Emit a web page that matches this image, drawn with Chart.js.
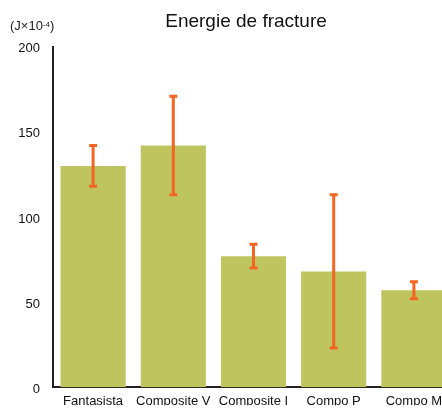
<!DOCTYPE html>
<html>
<head>
<meta charset="utf-8">
<script src="https://cdn.jsdelivr.net/npm/chart.js@4"></script>
<style>
  html, body { margin: 0; padding: 0; background: #fff; overflow: hidden; }
  .wrap { width: 442px; height: 408px; overflow: hidden; }
</style>
</head>
<body>
<div class="wrap">
  <canvas id="myChart" width="492" height="408"></canvas>
</div>
<script>
const categories = ['Fantasista', 'Composite V', 'Composite I', 'Compo P', 'Compo M'];
const energy = [130, 142, 77, 68, 57];
const errors = [12, 29, 7, 45, 5];
const yTicks = [0, 50, 100, 150, 200];

let barColor = '#bec55f', errColor = '#f26522', axisColor = '#222';
const fontFamily = '"Liberation Sans", Arial, sans-serif';

// error bars from the data arrays, plus the unit label in the corner
const errorBars = {
    id: 'errorBars',
    afterDatasetsDraw(chart) {
        const ctx = chart.ctx;
        const yScale = chart.scales.y;
        const meta = chart.getDatasetMeta(0);
        ctx.save();
        ctx.strokeStyle = errColor;
        ctx.lineWidth = 3;
        meta.data.forEach((bar, i) => {
            const top = yScale.getPixelForValue(energy[i] + errors[i]);
            const bottom = yScale.getPixelForValue(energy[i] - errors[i]);
            ctx.beginPath();
            ctx.moveTo(bar.x, top);
            ctx.lineTo(bar.x, bottom);
            ctx.moveTo(bar.x - 4, top);
            ctx.lineTo(bar.x + 4, top);
            ctx.moveTo(bar.x - 4, bottom);
            ctx.lineTo(bar.x + 4, bottom);
            ctx.stroke();
        });
        ctx.restore();
    },
    afterDraw(chart) {
        const ctx = chart.ctx;
        ctx.save();
        ctx.fillStyle = '#222';
        ctx.textBaseline = 'alphabetic';
        ctx.font = '13px ' + fontFamily;
        let x = 10;
        ctx.fillText('(J\u00d710', x, 30);
        x += ctx.measureText('(J\u00d710').width;
        ctx.font = '8px ' + fontFamily;
        ctx.fillText('-4', x, 27);
        x += ctx.measureText('-4').width;
        ctx.font = '13px ' + fontFamily;
        ctx.fillText(')', x, 30);
        ctx.restore();
    }
};

const data = {
    labels: categories,
    datasets: [{
        data: energy,
        backgroundColor: barColor,
        borderWidth: 0,
        categoryPercentage: 1,
        barPercentage: 0.8125
    }]
};

const config = {
    type: 'bar',
    data,
    plugins: [errorBars],
    options: {
        responsive: false,
        animation: false,
        devicePixelRatio: 1,
        layout: { padding: 0 },
        plugins: {
            legend: { display: false },
            tooltip: { enabled: false },
            title: {
                display: true,
                text: 'Energie de fracture',
                color: '#111',
                font: { family: fontFamily, size: 19, weight: 'normal' },
                padding: { top: 10, bottom: 14 }
            }
        },
        scales: {
            x: {
                grid: { display: false, drawTicks: false },
                border: { display: true, color: axisColor, width: 2 },
                ticks: {
                    color: '#111',
                    padding: 6,
                    maxRotation: 0,
                    autoSkip: false,
                    font: { family: fontFamily, size: 13 }
                },
                afterFit: s => { s.height = 18; }
            },
            y: {
                min: 0,
                max: 200,
                grid: { display: false, drawTicks: false },
                border: { display: true, color: axisColor, width: 2 },
                afterBuildTicks: s => { s.ticks = yTicks.map(v => ({ value: v })); },
                ticks: {
                    color: '#111',
                    padding: 13,
                    labelOffset: 2,
                    font: { family: fontFamily, size: 13 }
                },
                afterFit: s => { s.width = 53; }
            },
            // empty right-hand strip so the plot runs past the visible edge
            spacer: {
                type: 'linear',
                position: 'right',
                display: true,
                grid: { display: false, drawTicks: false },
                border: { display: false },
                ticks: { display: false },
                afterFit: s => { s.width = 38; }
            }
        }
    }
};

const myChart = new Chart(document.getElementById('myChart'), config);
</script>
</body>
</html>
